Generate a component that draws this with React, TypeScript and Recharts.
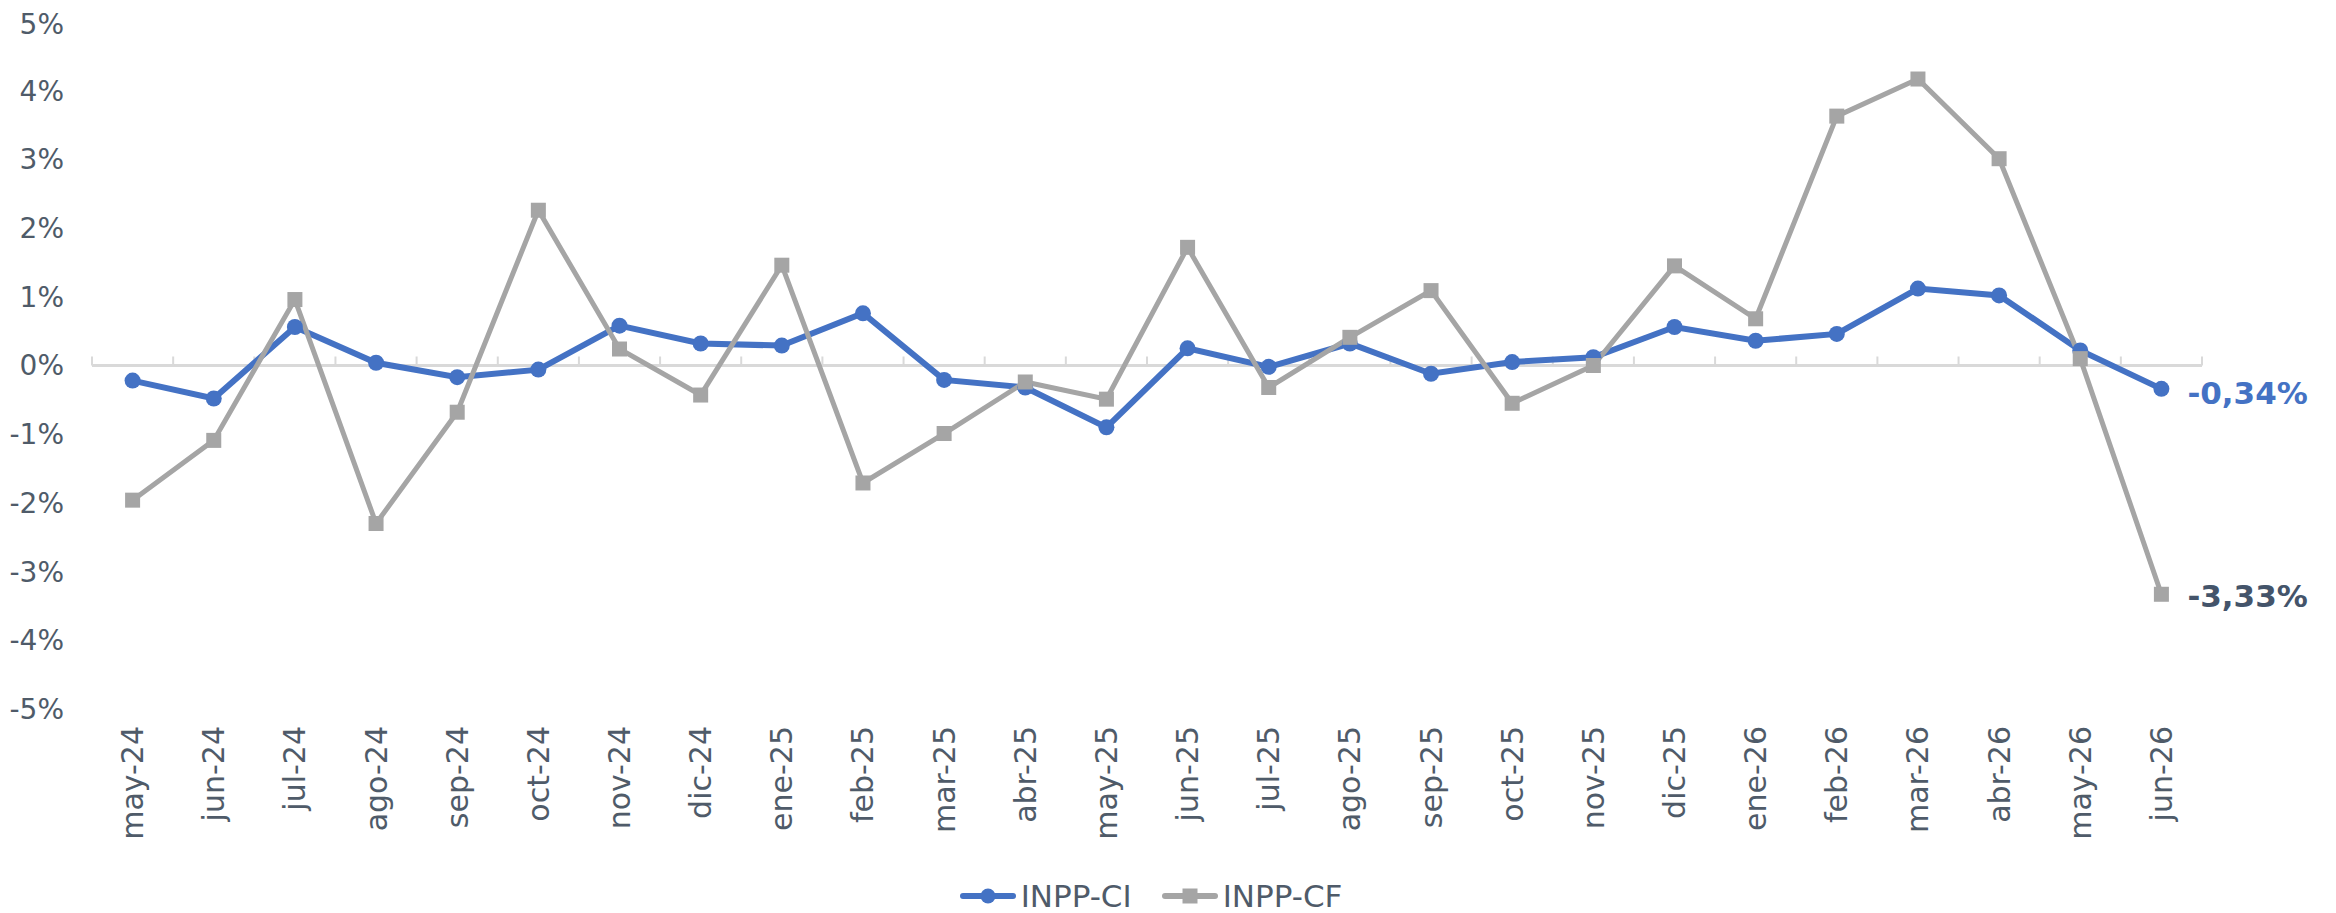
import React from 'react';
import { LineChart, Line, XAxis, YAxis, ReferenceLine, Legend, LabelList } from 'recharts';

const months = ['may-24','jun-24','jul-24','ago-24','sep-24','oct-24','nov-24','dic-24','ene-25','feb-25','mar-25','abr-25','may-25','jun-25','jul-25','ago-25','sep-25','oct-25','nov-25','dic-25','ene-26','feb-26','mar-26','abr-26','may-26','jun-26'];
const inppCI = [-0.22,-0.48,0.56,0.04,-0.17,-0.06,0.58,0.32,0.29,0.76,-0.21,-0.32,-0.90,0.25,-0.02,0.32,-0.12,0.05,0.12,0.56,0.36,0.46,1.12,1.02,0.22,-0.34];
const inppCF = [-1.96,-1.09,0.96,-2.30,-0.68,2.26,0.24,-0.43,1.46,-1.71,-0.99,-0.24,-0.49,1.72,-0.32,0.41,1.09,-0.55,0.00,1.45,0.68,3.63,4.17,3.01,0.10,-3.33];
const yTicks = [-5,-4,-3,-2,-1,0,1,2,3,4,5];
const seriesNames = ['INPP-CI','INPP-CF'];

const data = months.map((m, i) => ({ month: m, ci: inppCI[i], cf: inppCF[i] }));

const FONT = '"DejaVu Sans", "Century Gothic", sans-serif';
const TEXT = '#4F5B69';
const BLUE = '#4472C4';
const GRAY = '#A5A5A5';
const DARK = '#44546A';

const fmtPct = (v: number) => (v.toFixed(2).replace('.', ',') + '%');

const XTick = (props: any) => {
  const { x, y, payload } = props;
  return (
    <text transform={`translate(${x},${y}) rotate(-90)`} textAnchor="end" dy="0.35em"
      fontFamily={FONT} fontSize={30} fill={TEXT}>{payload.value}</text>
  );
};

const ZeroAxis = (props: any) => {
  const { x1, y1, x2 } = props;
  const n = months.length;
  const step = (x2 - x1) / n;
  const ticks = [];
  for (let i = 0; i <= n; i++) {
    const tx = x1 + i * step;
    ticks.push(<line key={i} x1={tx} x2={tx} y1={y1} y2={y1 - 9} stroke="#D9D9D9" strokeWidth={2} />);
  }
  return (
    <g>
      <line x1={x1} x2={x2} y1={y1} y2={y1} stroke="#D9D9D9" strokeWidth={3} />
      {ticks}
    </g>
  );
};

const SquareDot = (props: any) => {
  const { cx, cy, index } = props;
  if (cx == null || cy == null) return <g key={index} />;
  return <rect key={index} x={cx - 7.5} y={cy - 7.5} width={15} height={15} fill={GRAY} />;
};

const makeEndLabel = (color: string, dyPx: number) => (props: any) => {
  const { x, y, index, value } = props;
  if (index !== months.length - 1) return null;
  return (
    <text x={x + 26} y={y + dyPx} dominantBaseline="central" textAnchor="start"
      fontFamily={FONT} fontSize={31} fontWeight="bold" fill={color}>{fmtPct(value)}</text>
  );
};

const LegendContent = () => (
  <div style={{ display: 'flex', justifyContent: 'center', alignItems: 'center', height: 40,
    fontFamily: FONT, fontSize: 31, color: TEXT }}>
    <div style={{ display: 'flex', alignItems: 'center' }}>
      <svg width={56} height={20}>
        <line x1={3} y1={10} x2={53} y2={10} stroke={BLUE} strokeWidth={6} strokeLinecap="round" />
        <circle cx={28} cy={10} r={7.5} fill={BLUE} />
      </svg>
      <span style={{ marginLeft: 5 }}>{seriesNames[0]}</span>
    </div>
    <div style={{ display: 'flex', alignItems: 'center', marginLeft: 30 }}>
      <svg width={56} height={20}>
        <line x1={3} y1={10} x2={53} y2={10} stroke={GRAY} strokeWidth={6} strokeLinecap="round" />
        <rect x={20.5} y={2.5} width={15} height={15} fill={GRAY} />
      </svg>
      <span style={{ marginLeft: 5 }}>{seriesNames[1]}</span>
    </div>
  </div>
);

export default function App() {
  return (
    <LineChart width={2320} height={905} data={data}
      margin={{ top: 14, right: 126, bottom: 0, left: 0 }}>
      <XAxis dataKey="month" interval={0} axisLine={false} tickLine={false}
        padding={{ left: 40.6, right: 40.6 }}
        tick={<XTick />} height={164} tickMargin={11} />
      <YAxis domain={[-5, 5]} ticks={yTicks} width={84} axisLine={false} tickLine={false}
        tickMargin={22} tickFormatter={(v: number) => `${v}%`}
        tick={{ fontFamily: FONT, fontSize: 28, fill: TEXT }} />
      <ReferenceLine y={0} shape={<ZeroAxis />} />
      <Legend verticalAlign="bottom" content={<LegendContent />}
        wrapperStyle={{ left: 0, width: 2286, bottom: -3 }} />
      <Line type="linear" dataKey="ci" name={seriesNames[0]} stroke={BLUE} strokeWidth={6}
        dot={{ r: 8, fill: BLUE, stroke: BLUE, strokeWidth: 0 }} activeDot={false}
        isAnimationActive={false}>
        <LabelList dataKey="ci" content={makeEndLabel(BLUE, 4)} />
      </Line>
      <Line type="linear" dataKey="cf" name={seriesNames[1]} stroke={GRAY} strokeWidth={5}
        dot={<SquareDot />} activeDot={false} isAnimationActive={false}>
        <LabelList dataKey="cf" content={makeEndLabel(DARK, 2)} />
      </Line>
    </LineChart>
  );
}
